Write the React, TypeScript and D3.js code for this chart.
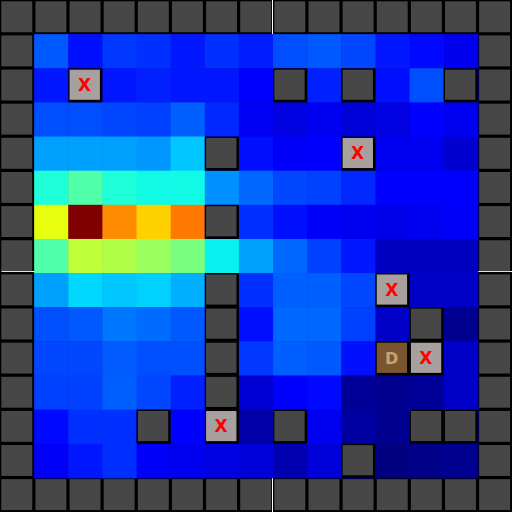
import { useEffect, useRef } from 'react'
import * as d3 from 'd3'

// grid size including the outer wall ring
const GRID = 15

// heat values for the interior 13x13 cells (rows 1..13, cols 1..13); null = covered
const heatRows: (number | null)[][] = [
  [0.211, 0.141, 0.18, 0.172, 0.148, 0.172, 0.152, 0.203, 0.211, 0.195, 0.148, 0.133, 0.095],
  [0.148, null, 0.148, 0.156, 0.148, 0.148, 0.12, null, 0.156, null, 0.141, 0.203, null],
  [0.203, 0.203, 0.195, 0.188, 0.219, 0.164, 0.1, 0.083, 0.097, 0.076, 0.083, 0.11, 0.097],
  [0.282, 0.282, 0.282, 0.274, 0.32, null, 0.141, 0.104, 0.115, null, 0.097, 0.097, 0.07],
  [0.387, 0.447, 0.387, 0.37, 0.37, 0.266, 0.227, 0.195, 0.188, 0.164, 0.12, 0.12, 0.12],
  [0.632, 1.0, 0.762, 0.69, 0.783, null, 0.172, 0.141, 0.104, 0.097, 0.09, 0.097, 0.104],
  [0.447, 0.583, 0.564, 0.535, 0.496, 0.36, 0.282, 0.227, 0.188, 0.148, 0.056, 0.056, 0.056],
  [0.282, 0.337, 0.32, 0.33, 0.297, null, 0.172, 0.219, 0.219, 0.195, null, 0.062, 0.062],
  [0.203, 0.211, 0.242, 0.231, 0.211, null, 0.141, 0.227, 0.227, 0.188, 0.062, null, 0.014],
  [0.195, 0.195, 0.215, 0.203, 0.203, null, 0.18, 0.219, 0.211, 0.141, null, null, 0.062],
  [0.188, 0.188, 0.219, 0.195, 0.156, null, 0.073, 0.11, 0.133, 0.021, 0.014, 0.021, 0.062],
  [0.133, 0.172, 0.172, null, 0.12, null, 0.035, null, 0.097, 0.028, 0.014, null, null],
  [0.104, 0.148, 0.172, 0.104, 0.097, 0.083, 0.076, 0.042, 0.076, null, 0.0, 0.007, 0.014],
]

// [row, col] in the full 15x15 grid
const walls: [number, number][] = [
  [2, 8], [2, 10], [2, 13], [4, 6], [6, 6], [8, 6], [9, 6], [10, 6], [11, 6],
  [9, 12], [12, 4], [12, 8], [12, 12], [12, 13], [13, 10],
]
const xCells: [number, number][] = [[2, 2], [4, 10], [8, 11], [10, 12], [12, 6]]
const dCells: [number, number][] = [[10, 11]]

// matplotlib jet, sampled at its channel breakpoints
const jetStops = [0, 0.11, 0.125, 0.34, 0.35, 0.375, 0.64, 0.65, 0.66, 0.89, 0.91, 1]
const jetColors = [
  'rgb(0,0,128)', 'rgb(0,0,255)', 'rgb(0,0,255)', 'rgb(0,219,255)', 'rgb(0,230,247)',
  'rgb(21,255,226)', 'rgb(238,255,8)', 'rgb(247,246,0)', 'rgb(255,236,0)', 'rgb(255,19,0)',
  'rgb(232,0,0)', 'rgb(128,0,0)',
]

export default function App() {
  const svgRef = useRef<SVGSVGElement>(null)

  useEffect(() => {
    document.body.style.margin = '0'
    const W = 512
    const H = 512
    const x = d3.scaleLinear().domain([0, GRID]).range([0, W])
    const y = d3.scaleLinear().domain([0, GRID]).range([0, H])
    const s = x(1) - x(0)
    const color = d3.scaleLinear<string>().domain(jetStops).range(jetColors)
      .interpolate(d3.interpolateRgb).clamp(true)

    const svg = d3.select(svgRef.current)
    svg.selectAll('*').remove()
    svg.attr('width', W).attr('height', H)

    svg.append('rect').attr('width', W).attr('height', H).attr('fill', '#000')

    // faint white grid lines peeking through the gaps
    svg.append('line')
      .attr('x1', 272.5).attr('x2', 272.5).attr('y1', 0).attr('y2', H)
      .attr('stroke', '#fff').attr('stroke-width', 1)
    svg.append('line')
      .attr('x1', 1.5).attr('x2', W).attr('y1', 271.5).attr('y2', 271.5)
      .attr('stroke', '#fff').attr('stroke-width', 1.2)

    const heat = heatRows.flatMap((row, ri) =>
      row.map((v, ci) => ({ r: ri + 1, c: ci + 1, v })))

    svg.append('g')
      .selectAll('rect')
      .data(heat)
      .join('rect')
      .attr('x', (d) => x(d.c))
      .attr('y', (d) => y(d.r))
      .attr('width', s + 0.5)
      .attr('height', s + 0.5)
      .attr('fill', (d) => (d.v == null ? color(0.1) : color(d.v)))

    const ring: [number, number][] = []
    for (let i = 0; i < GRID; i++) {
      ring.push([0, i], [GRID - 1, i])
      if (i > 0 && i < GRID - 1) ring.push([i, 0], [i, GRID - 1])
    }

    const boxed = (cells: [number, number][], fill: string, cls: string) => {
      const g = svg.append('g').attr('class', cls)
      g.selectAll('rect.edge')
        .data(cells)
        .join('rect')
        .attr('class', 'edge')
        .attr('x', (d) => x(d[1]))
        .attr('y', (d) => y(d[0]))
        .attr('width', s)
        .attr('height', s)
        .attr('fill', '#000')
      g.selectAll('rect.face')
        .data(cells)
        .join('rect')
        .attr('class', 'face')
        .attr('x', (d) => x(d[1]) + 1.3)
        .attr('y', (d) => y(d[0]) + 1.4)
        .attr('width', s - 3.8)
        .attr('height', s - 4)
        .attr('fill', fill)
      return g
    }

    // outer ring: gray faces only, black comes from the background
    svg.append('g')
      .selectAll('rect')
      .data(ring)
      .join('rect')
      .attr('x', (d) => x(d[1]) + 1.3)
      .attr('y', (d) => y(d[0]) + 1.3)
      .attr('width', s - 3.2)
      .attr('height', s - 3.2)
      .attr('fill', '#474747')

    boxed(walls, '#474747', 'walls')

    const gx = boxed(xCells, '#a8a09e', 'xcells')
    gx.selectAll('text')
      .data(xCells)
      .join('text')
      .attr('x', (d) => x(d[1]) + s / 2 - 0.8)
      .attr('y', (d) => y(d[0]) + s / 2 + 5.8)
      .attr('text-anchor', 'middle')
      .attr('font-family', 'DejaVu Sans, sans-serif')
      .attr('font-weight', 'bold')
      .attr('font-size', 17)
      .attr('fill', '#ff0000')
      .text('X')

    const gd = boxed(dCells, '#7a5530', 'dcells')
    gd.selectAll('text')
      .data(dCells)
      .join('text')
      .attr('x', (d) => x(d[1]) + s / 2 - 0.8)
      .attr('y', (d) => y(d[0]) + s / 2 + 5.6)
      .attr('text-anchor', 'middle')
      .attr('font-family', 'DejaVu Sans, sans-serif')
      .attr('font-weight', 'bold')
      .attr('font-size', 16)
      .attr('fill', '#c9a273')
      .text('D')
  }, [])

  return (
    <div style={{ position: 'absolute', left: 0, top: 0 }}>
      <svg ref={svgRef} style={{ display: 'block' }} />
    </div>
  )
}
